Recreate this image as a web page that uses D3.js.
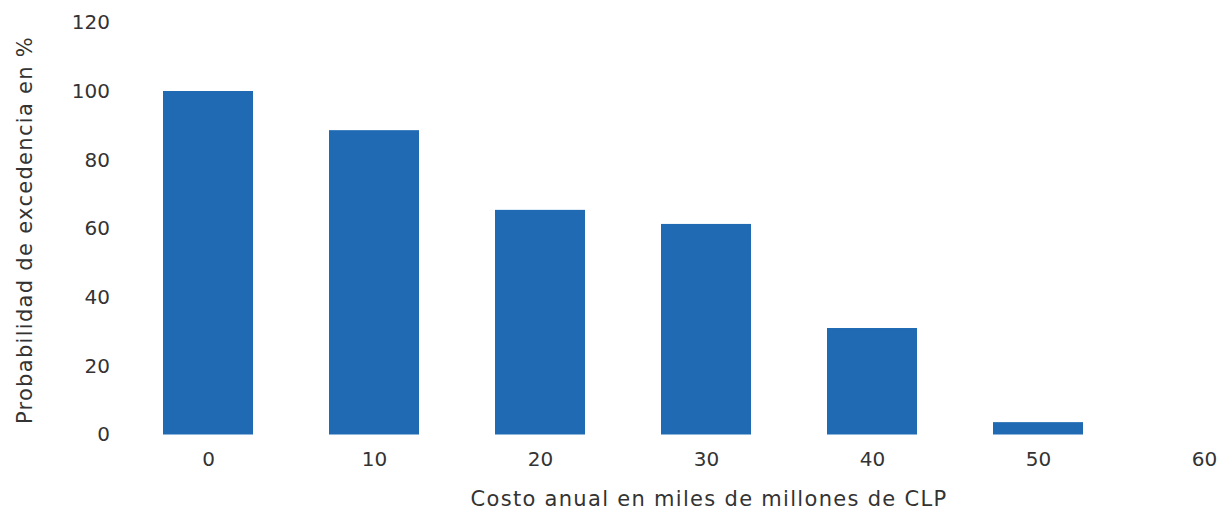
<!DOCTYPE html>
<html>
<head>
<meta charset="utf-8">
<script src="https://cdn.jsdelivr.net/npm/d3@7"></script>
<style>
  body { margin: 0; background: #fff; }
  text { font-family: "DejaVu Sans", sans-serif; fill: #333; }
</style>
</head>
<body>
<div id="chart"></div>
<script>
// valores
var categories = ["0", "10", "20", "30", "40", "50", "60"];
var values = [100, 88.6, 65.4, 61.3, 31.0, 3.6, 0];
var yTicks = [0, 20, 40, 60, 80, 100, 120];

var width = 1229, height = 512;
var font = "'DejaVu Sans', sans-serif";

var svg = d3.select("#chart")
  .append("svg")
  .attr("width", width)
  .attr("height", height);

var x = d3.scalePoint()
  .domain(categories)
  .range([208, 1204]);

var y = d3.scaleLinear()
  .domain([0, 120])
  .range([434.5, 22.3]);

var barW = 90;

svg.selectAll(".bar")
  .data(values)
  .enter()
  .append("rect")
  .attr("class", "bar")
  .attr("x", function (d, i) { return x(categories[i]) - barW / 2; })
  .attr("y", function (d) { return y(d); })
  .attr("width", barW)
  .attr("height", function (d) { return y(0) - y(d); })
  .attr("fill", "#1f6ab3");

// eje y
var gy = svg.append("g")
  .attr("transform", "translate(110,0)")
  .call(d3.axisLeft(y).tickValues(yTicks).tickSize(0).tickPadding(0));
gy.select(".domain").remove();
gy.selectAll("text")
  .style("font-size", "20px")
  .style("font-family", font)
  .attr("fill", "#333");

// eje x
var gx = svg.append("g")
  .attr("transform", "translate(0,436)")
  .call(d3.axisBottom(x).tickSize(0).tickPadding(16));
gx.select(".domain").remove();
gx.selectAll("text")
  .style("font-size", "20px")
  .style("font-family", font)
  .attr("fill", "#333");

svg.append("text")
  .attr("x", 709)
  .attr("y", 506)
  .attr("text-anchor", "middle")
  .style("font-size", "21px")
  .style("letter-spacing", "1.3px")
  .text("Costo anual en miles de millones de CLP");

svg.append("text")
  .attr("transform", "translate(32,230) rotate(-90)")
  .attr("text-anchor", "middle")
  .style("font-size", "21px")
  .style("letter-spacing", "1.3px")
  .text("Probabilidad de excedencia en %");
</script>
</body>
</html>
